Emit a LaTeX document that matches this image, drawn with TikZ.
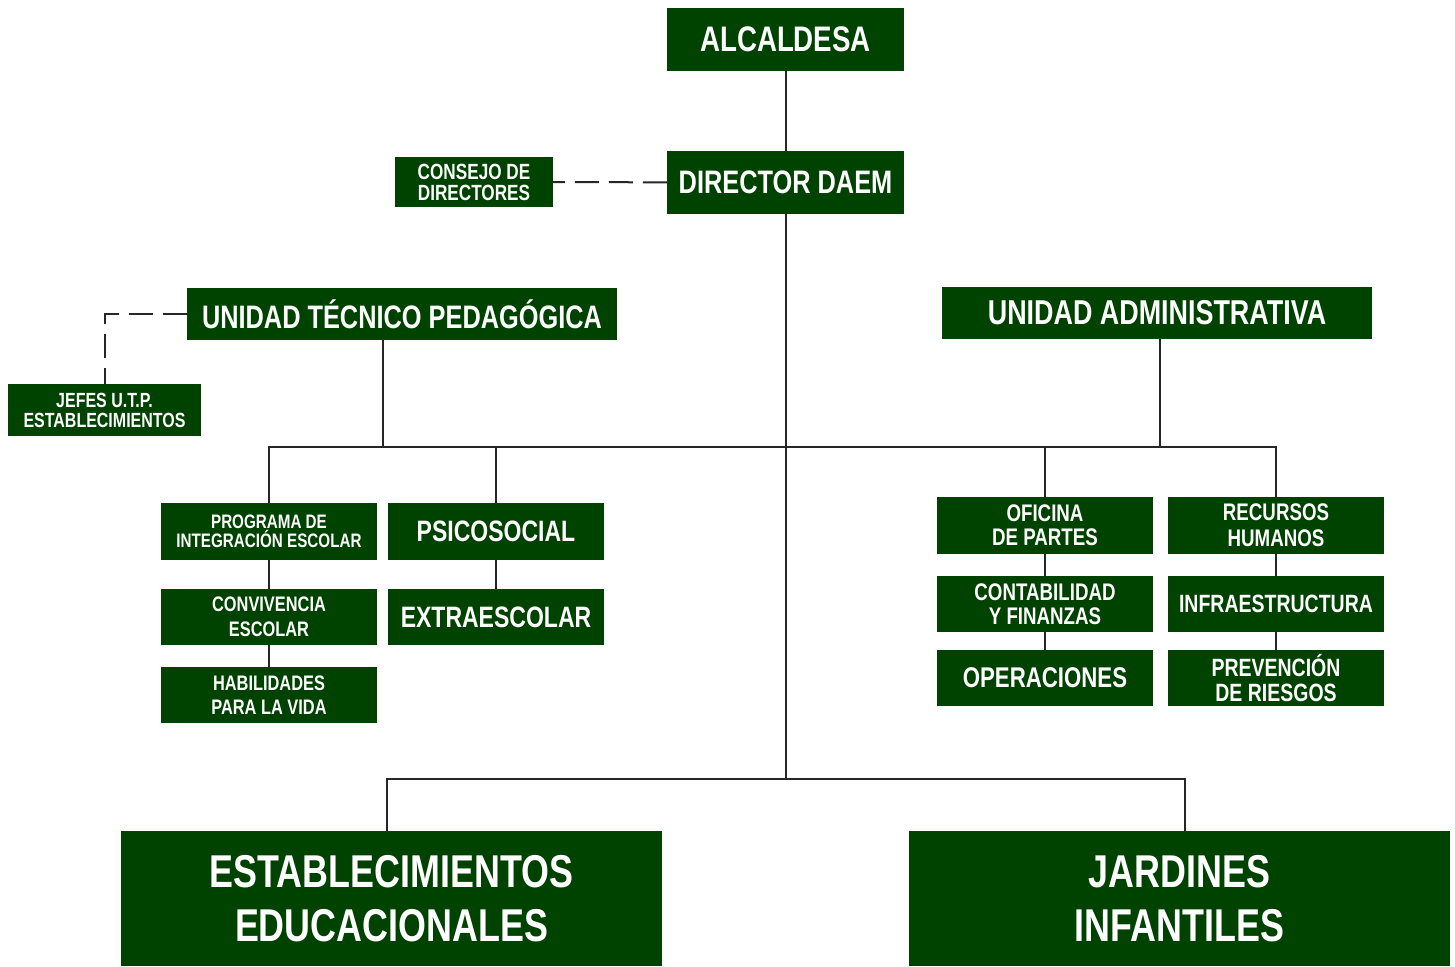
\documentclass[tikz,border=0pt]{standalone}
\usepackage{fontspec}
\setmainfont{Liberation Sans}[FakeStretch=0.78]
\definecolor{dgreen}{RGB}{0,66,0}

\begin{document}
\begin{tikzpicture}[x=1pt,y=-1pt,
box/.style={fill=dgreen,text=white,align=center,inner sep=0pt},
conn/.style={line width=2pt,black!85},
dashline/.style={conn,dash pattern=on 24pt off 10pt},
head/.style={box,minimum width=237,minimum height=63,font=\bfseries\fontsize{33}{35}\selectfont},
unit/.style={box,minimum width=430,minimum height=52,font=\bfseries\fontsize{33}{35}\selectfont},
dept/.style={box,minimum width=216,minimum height=56},
base/.style={box,minimum width=541,minimum height=135,font=\bfseries\fontsize{46}{54}\selectfont}]
\useasboundingbox (0,0) rectangle (1455,966);
\node[head,font=\bfseries\fontsize{35.5}{37}\selectfont] (alc) at (785.5,39.5) {ALCALDESA};
\node[head,font=\bfseries\fontsize{32.5}{35}\selectfont] (dir) at (785.5,182.5) {DIRECTOR DAEM};
\node[box,minimum width=158,minimum height=50,font=\bfseries\fontsize{22}{21}\selectfont] (cons) at (474,182) {CONSEJO DE\\DIRECTORES};
\node[unit,font=\bfseries\fontsize{32.5}{35}\selectfont] (utp) at (402,314) {UNIDAD TÉCNICO PEDAGÓGICA};
\node[box,minimum width=193,minimum height=52,font=\bfseries\fontsize{20.5}{20}\selectfont] (jefes) at (104.5,410) {JEFES U.T.P.\\ESTABLECIMIENTOS};
\node[unit,font=\bfseries\fontsize{34.5}{35}\selectfont] (ua) at (1157,313) {UNIDAD ADMINISTRATIVA};
\node[dept,minimum height=57,font=\bfseries\fontsize{19.5}{19.5}\selectfont] (pie) at (269,531.5) {PROGRAMA DE\\INTEGRACIÓN ESCOLAR};
\node[dept,font=\bfseries\fontsize{21}{25}\selectfont] (conv) at (269,617) {CONVIVENCIA\\ESCOLAR};
\node[dept,font=\bfseries\fontsize{21}{24}\selectfont] (hab) at (269,695) {HABILIDADES\\PARA LA VIDA};
\node[dept,minimum height=57,font=\bfseries\fontsize{29.5}{30}\selectfont] (psi) at (496,531.5) {PSICOSOCIAL};
\node[dept,font=\bfseries\fontsize{29.5}{30}\selectfont] (ext) at (496,617) {EXTRAESCOLAR};
\node[dept,minimum height=57,font=\bfseries\fontsize{24}{24}\selectfont] (ofi) at (1045,525.5) {OFICINA\\DE PARTES};
\node[dept,font=\bfseries\fontsize{24}{24}\selectfont] (cont) at (1045,604) {CONTABILIDAD\\Y FINANZAS};
\node[dept,font=\bfseries\fontsize{28.5}{28}\selectfont] (ope) at (1045,678) {OPERACIONES};
\node[dept,minimum height=57,font=\bfseries\fontsize{24}{26}\selectfont] (rrhh) at (1276,525.5) {RECURSOS\\HUMANOS};
\node[dept,font=\bfseries\fontsize{25}{26}\selectfont] (inf) at (1276,604) {INFRAESTRUCTURA};
\node[dept,font=\bfseries\fontsize{25}{25}\selectfont] (prev) at (1276,678) {PREVENCIÓN\\DE RIESGOS};
\node[base] (est) at (391.5,898.5) {ESTABLECIMIENTOS\\EDUCACIONALES};
\node[base] (jar) at (1179.5,898.5) {JARDINES\\INFANTILES};
\coordinate (busm) at (785.5,447);
\coordinate (busb) at (785.5,779);
\draw[conn] (alc) -- (dir);
\draw[dashline] (dir) -- (cons);
\draw[dashline] (utp.west) -| (jefes.north);
\draw[conn] (dir.south) -- (busb);
\draw[conn] ([xshift=-19pt]utp.south) -- ([xshift=-19pt]utp.south |- busm);
\draw[conn] ([xshift=3pt]ua.south) -- ([xshift=3pt]ua.south |- busm);
\draw[conn] (pie.north) |- (rrhh.north |- busm) -- (rrhh.north);
\draw[conn] (psi.north) -- (psi.north |- busm);
\draw[conn] (ofi.north) -- (ofi.north |- busm);
\draw[conn] (pie) -- (conv) -- (hab);
\draw[conn] (psi) -- (ext);
\draw[conn] (ofi) -- (cont) -- (ope);
\draw[conn] (rrhh) -- (inf) -- (prev);
\draw[conn] ([xshift=-5pt]est.north) |- (busb) -| ([xshift=5pt]jar.north);
\end{tikzpicture}
\end{document}
